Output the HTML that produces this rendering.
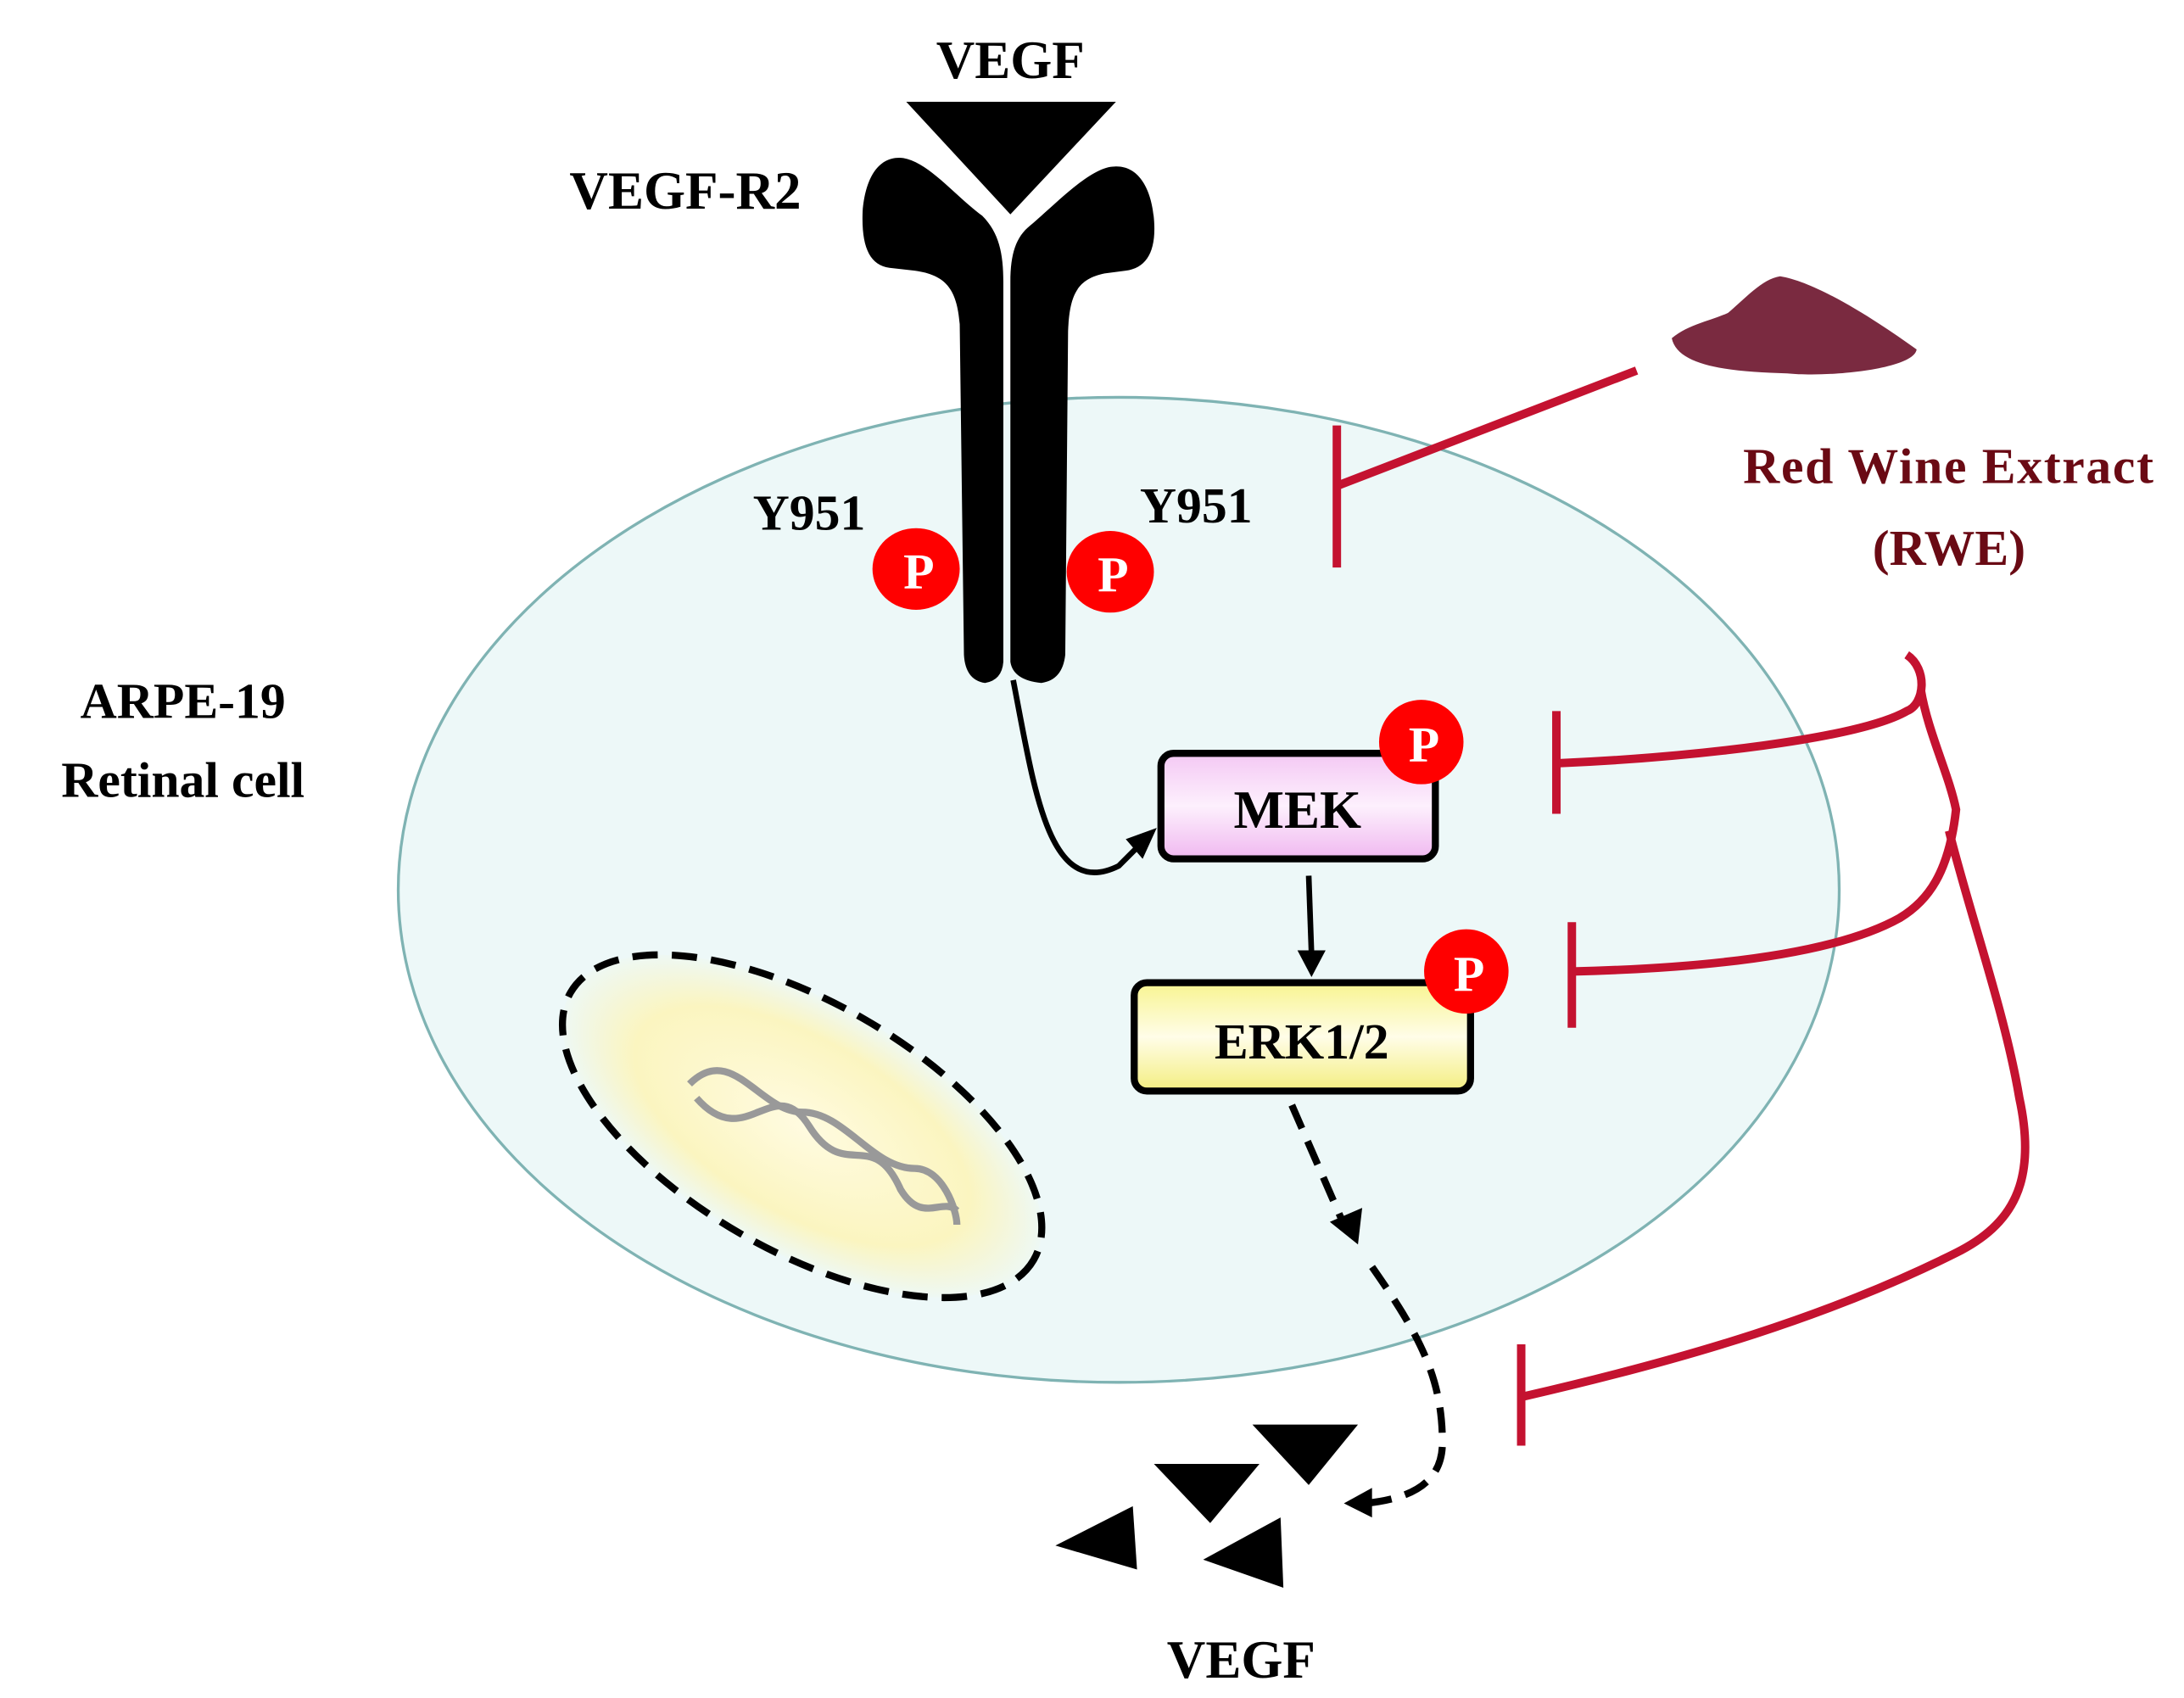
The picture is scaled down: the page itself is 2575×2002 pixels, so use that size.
<!DOCTYPE html>
<html><head><meta charset="utf-8"><style>
html,body{margin:0;padding:0;background:#fff;}
svg{display:block;}
text{font-family:"Liberation Serif",serif;font-weight:bold;}
</style></head><body>
<svg width="2575" height="2002" viewBox="0 0 1552 1206" xmlns="http://www.w3.org/2000/svg">
<defs>
<linearGradient id="mek" x1="0" y1="0" x2="0" y2="1"><stop offset="0" stop-color="#f4c8f4"/><stop offset="0.5" stop-color="#fdf0fd"/><stop offset="1" stop-color="#f0b8f0"/></linearGradient>
<linearGradient id="erk" x1="0" y1="0" x2="0" y2="1"><stop offset="0" stop-color="#f8f490"/><stop offset="0.5" stop-color="#fffde8"/><stop offset="1" stop-color="#f4ee80"/></linearGradient>
<radialGradient id="nuc"><stop offset="0" stop-color="#fffbe0"/><stop offset="0.7" stop-color="#fbf5c0"/><stop offset="1" stop-color="#eef8f4"/></radialGradient>
</defs>
<ellipse cx="795" cy="632" rx="512" ry="350" fill="#edf8f8" stroke="#7fb3b3" stroke-width="2"/>
<ellipse cx="570" cy="800" rx="190" ry="88" transform="rotate(30 570 800)" fill="url(#nuc)" stroke="#000" stroke-width="5" stroke-dasharray="18 10"/>
<g fill="none" stroke="#999" stroke-width="5">
<path d="M490 770 C520 740 540 790 570 790 C600 790 620 830 650 830 C670 830 680 860 680 870"/>
<path d="M495 780 C530 820 550 760 575 800 C600 840 620 800 640 845 C655 870 670 850 680 860"/>
</g>
<text x="718" y="55" font-size="38" text-anchor="middle">VEGF</text>
<polygon points="644,72 793,72 718,152" fill="#000"/>
<text x="487" y="148" font-size="38" text-anchor="middle">VEGF-R2</text>
<path d="M713 470 Q712 483 700 485 Q686 483 685 465 L682 230 C680 205 672 195 650 192 L632 190 C618 188 612 175 613 150 C615 125 625 110 642 112 C660 115 680 140 698 153 C710 165 713 180 713 200 Z" fill="#000"/>
<path d="M718 470 L718 200 C718 180 722 168 732 160 C750 145 775 118 792 118 C808 117 818 132 820 155 C822 178 815 190 800 192 L785 194 C765 198 760 210 759 235 L757 465 Q755 483 740 485 Q720 483 718 470 Z" fill="#000"/>
<text x="575" y="376" font-size="36" text-anchor="middle">Y951</text>
<text x="850" y="371" font-size="36" text-anchor="middle">Y951</text>
<g font-size="36" fill="#fff" text-anchor="middle">
<ellipse cx="651" cy="404" rx="31" ry="29" fill="#ff0000"/><text x="653" y="418">P</text>
<ellipse cx="789" cy="406" rx="31" ry="29" fill="#ff0000"/><text x="791" y="420">P</text>
</g>
<text x="130" y="510" font-size="36" text-anchor="middle">ARPE-19</text>
<text x="130" y="566" font-size="36" text-anchor="middle">Retinal cell</text>
<rect x="825" y="535" width="195" height="75" rx="9" fill="url(#mek)" stroke="#000" stroke-width="5"/>
<text x="922" y="588" font-size="38" text-anchor="middle">MEK</text>
<rect x="806" y="698" width="239" height="77" rx="9" fill="url(#erk)" stroke="#000" stroke-width="5"/>
<text x="925" y="752" font-size="36" text-anchor="middle">ERK1/2</text>
<g font-size="36" fill="#fff" text-anchor="middle">
<circle cx="1010" cy="527" r="30" fill="#ff0000"/><text x="1012" y="541">P</text>
<circle cx="1042" cy="690" r="30" fill="#ff0000"/><text x="1044" y="704">P</text>
</g>
<path d="M720 483 C735 560 745 640 795 615 L812 598" fill="none" stroke="#000" stroke-width="4"/>
<polygon points="822,588 800,596 812,610" fill="#000"/>
<line x1="930" y1="622" x2="932" y2="678" stroke="#000" stroke-width="4"/>
<polygon points="922,675 942,675 932,694" fill="#000"/>
<path d="M918 785 L955 870" fill="none" stroke="#000" stroke-width="5" stroke-dasharray="18 10"/>
<polygon points="945,868 968,858 965,884" fill="#000"/>
<path d="M975 900 C1010 950 1025 980 1025 1025 C1025 1055 1000 1065 970 1068" fill="none" stroke="#000" stroke-width="5" stroke-dasharray="18 10"/>
<polygon points="955,1068 975,1057 975,1078" fill="#000"/>
<g fill="#000">
<polygon points="890,1012 965,1012 930,1055"/>
<polygon points="820,1040 895,1040 860,1082"/>
<polygon points="750,1098 805,1070 808,1115"/>
<polygon points="855,1108 910,1078 912,1128"/>
</g>
<text x="882" y="1192" font-size="38" text-anchor="middle">VEGF</text>
<path d="M1188 240 C1200 230 1215 228 1228 222 C1240 212 1252 198 1265 196 C1290 200 1330 225 1362 248 C1360 262 1300 268 1270 265 C1230 264 1192 260 1188 240 Z" fill="#7a2a40"/>
<text x="1385" y="343" font-size="36" fill="#6a0a14" text-anchor="middle" letter-spacing="1">Red Wine  Extract</text>
<text x="1385" y="401" font-size="36" fill="#6a0a14" text-anchor="middle">(RWE)</text>
<g fill="none" stroke="#c41230" stroke-width="6">
<line x1="1163" y1="263" x2="950" y2="345"/>
<line x1="950" y1="302" x2="950" y2="403"/>
<path d="M1355 465 C1370 475 1368 500 1355 505 C1320 525 1200 538 1108 542"/>
<line x1="1106" y1="505" x2="1106" y2="578"/>
<path d="M1365 490 C1370 520 1385 550 1390 575 C1385 620 1370 640 1350 652 C1300 680 1200 688 1118 690"/>
<line x1="1117" y1="655" x2="1117" y2="730"/>
<path d="M1385 590 C1400 650 1425 720 1435 780 C1448 840 1430 870 1390 890 C1300 935 1200 965 1083 992"/>
<line x1="1081" y1="955" x2="1081" y2="1027"/>
</g>
</svg>
</body></html>
